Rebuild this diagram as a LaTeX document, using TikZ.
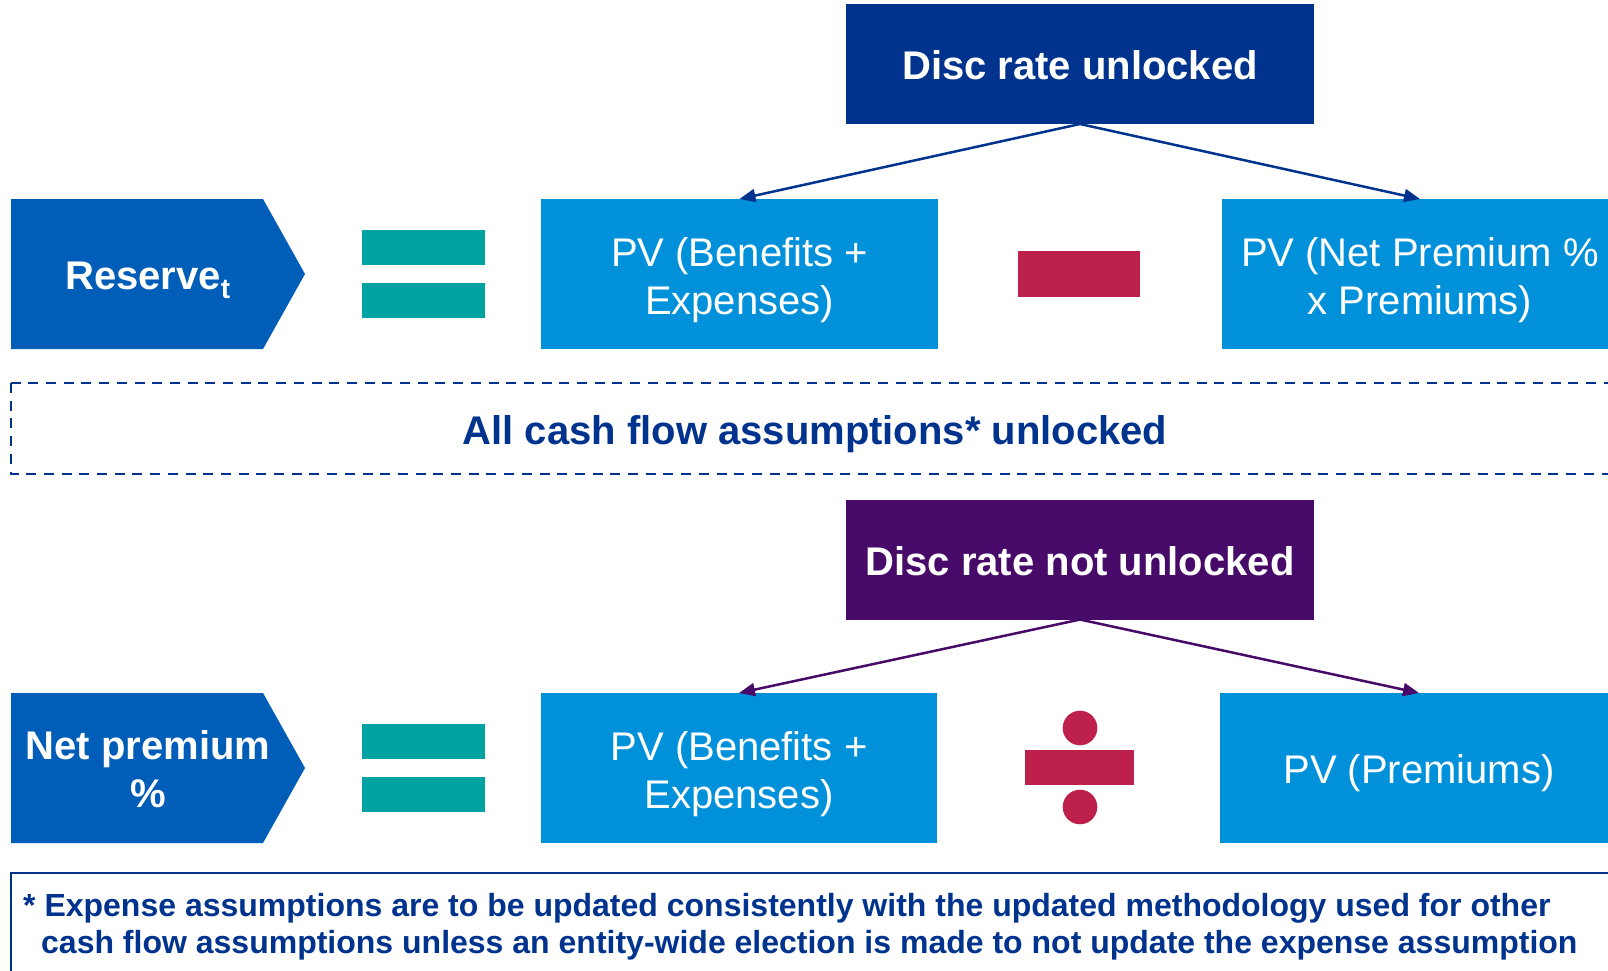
\documentclass[tikz,border=0pt]{standalone}
\usepackage{fontspec}
\setmainfont{Liberation Sans}
\usetikzlibrary{arrows.meta}
\definecolor{navy}{HTML}{00338D}
\definecolor{chevblue}{HTML}{005EB8}
\definecolor{pvblue}{HTML}{0091DA}
\definecolor{eqteal}{HTML}{00A3A1}
\definecolor{crimson}{HTML}{BC204B}
\definecolor{deeppurple}{HTML}{470A68}
\tikzset{
  pvbox/.style={fill=pvblue, inner sep=0pt, outer sep=0pt, minimum width=397pt, minimum height=150pt},
  discbox/.style={inner sep=0pt, outer sep=0pt, minimum width=468pt, minimum height=120pt},
  whitetxt/.style={text=white, font=\fontsize{40}{48}\selectfont, align=center, inner sep=0pt},
  boldtxt/.style={text=white, font=\fontsize{40}{48}\selectfont\bfseries, align=center, inner sep=0pt},
  arr/.style={line width=2.5pt, -{Triangle[length=16pt,width=13pt]}},
  fntxt/.style={text=navy, font=\fontsize{32}{37}\selectfont\bfseries, inner sep=0pt, anchor=base west},
  chev/.style={fill=chevblue},
  eqbar/.style={fill=eqteal},
  opsign/.style={fill=crimson}
}
\begin{document}
\begin{tikzpicture}[x=1pt,y=-1pt]
\useasboundingbox (0,0) rectangle (1608,971);
\clip (0,0) rectangle (1608,971);
\fill[white] (0,0) rectangle (1608,971);

% ---------- upper row ----------
\node[discbox, fill=navy] (disc1) at (1080,64) {};
\node[boldtxt] (disc1t) at ([yshift=-1.5pt]disc1.center) {Disc rate unlocked};

\fill[chev] (11,199) -- (263,199) -- (305,274) -- (263,349) -- (11,349) -- cycle;
\node[boldtxt, anchor=base] (res) at (148,289) {Reserve\textsubscript{t}};

\fill[eqbar] (362,230) rectangle (485,265);
\fill[eqbar] (362,283) rectangle (485,318);

\node[pvbox] (pv1) at (739.5,274) {};
\node[whitetxt] (pv1t) at ([yshift=-6pt]pv1.center) {PV (Benefits +\\Expenses)};

\fill[opsign] (1018,251) rectangle (1140,297);

\node[pvbox, minimum width=396pt] (pv2) at (1420,274) {};
\node[whitetxt] (pv2t) at ([yshift=-6pt]pv2.center) {PV (Net Premium \%\\x Premiums)};

\draw[arr, navy] (disc1.south) -- (pv1.north);
\draw[arr, navy] (disc1.south) -- (pv2.north);

% ---------- dashed band ----------
\draw[navy, line width=2.5pt, dash pattern=on 10pt off 7.7pt] (11,383) rectangle (1624,474);
\node[text=navy, font=\fontsize{40}{48}\selectfont\bfseries, inner sep=0pt] (allcf) at (815,434) {All cash flow assumptions* unlocked};

% ---------- lower row ----------
\node[discbox, fill=deeppurple] (disc2) at (1080,559.5) {};
\node[boldtxt] (disc2t) at ([yshift=-2pt]disc2.center) {Disc rate not unlocked};

\fill[chev] (11,693) -- (263,693) -- (305,768) -- (263,843) -- (11,843) -- cycle;
\node[boldtxt] (np) at (148,769) {Net premium\\\%};

\fill[eqbar] (362,724) rectangle (485,759);
\fill[eqbar] (362,777) rectangle (485,812);

\node[pvbox, minimum width=396pt] (pv3) at (739,768) {};
\node[whitetxt] (pv3t) at ([yshift=-6pt]pv3.center) {PV (Benefits +\\Expenses)};

\fill[opsign] (1080,728) circle[radius=17.3];
\fill[opsign] (1025,750) rectangle (1134,785);
\fill[opsign] (1080,807) circle[radius=17.3];

\node[pvbox, minimum width=398pt] (pv4) at (1419,768) {};
\node[whitetxt] (pv4t) at ([yshift=-5pt]pv4.center) {PV (Premiums)};

\draw[arr, deeppurple] (disc2.south) -- (pv3.north);
\draw[arr, deeppurple] (disc2.south) -- (pv4.north);

% ---------- footnote ----------
\draw[navy, line width=1.8pt] (11,873) rectangle (1626,995);
\node[fntxt] (fn1) at (23,916) {* Expense assumptions are to be updated consistently with the updated methodology used for other};
\node[fntxt] (fn2) at (41,953) {cash flow assumptions unless an entity-wide election is made to not update the expense assumption};
\end{tikzpicture}
\end{document}
